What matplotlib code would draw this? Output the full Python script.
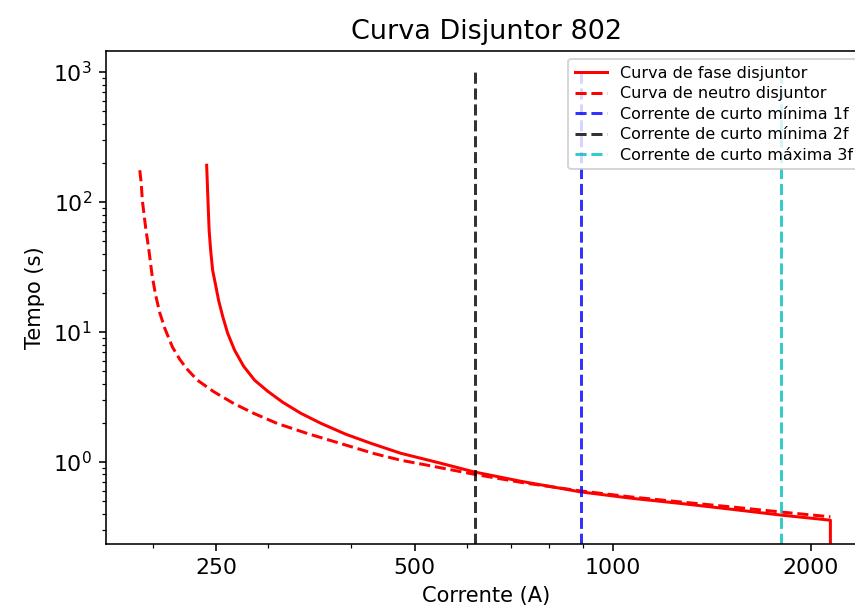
import numpy as np
import matplotlib
matplotlib.use("Agg")
import matplotlib.pyplot as plt
from matplotlib.ticker import FixedLocator, ScalarFormatter, NullFormatter

# curva de fase
i_fase = [241.7, 242.8, 243.8, 245.1, 246.8, 249.4, 252.0, 255.6, 260.1, 266.5,
          275.0, 285.8, 299.1, 315.2, 335.7, 360.0, 392.9, 428.8, 476.1, 547.6,
          615.2, 724.3, 893.2, 1063.9, 1267.0, 1509.0, 1797.0, 2140.0, 2140.0]
t_fase = [191.5, 103.0, 60.5, 42.5, 29.8, 22.9, 17.5, 13.2, 9.77, 7.23,
          5.45, 4.25, 3.50, 2.88, 2.37, 1.985, 1.634, 1.392, 1.166, 0.977,
          0.838, 0.710, 0.588, 0.526, 0.479, 0.433, 0.390, 0.356, 0.1]

# curva de neutro
i_neutro = [191.3, 192.3, 193.0, 195.2, 197.5, 199.7, 202.2, 205.0, 208.7, 214.4,
            219.9, 225.4, 234.0, 247.9, 265.8, 285.1, 309.4, 343.6, 386.0, 433.7,
            476.1, 522.7, 615.2, 732.6, 893.2, 1063.9, 1267.0, 1509.0, 1797.0, 2140.0]
t_neutro = [175.3, 138.5, 103.1, 64.2, 42.5, 27.3, 19.2, 14.2, 10.7, 7.66,
            6.17, 5.21, 4.25, 3.46, 2.81, 2.36, 1.974, 1.654, 1.385, 1.160,
            1.031, 0.943, 0.804, 0.690, 0.598, 0.538, 0.492, 0.451, 0.412, 0.378]

# correntes de curto
icc_min_1f = 894
icc_min_2f = 617
icc_max_3f = 1798
t_linha = [0.1, 1000]

xticks = [250, 500, 1000, 2000]

fig = plt.figure(figsize=(855 / 144, 610 / 144), dpi=144)
ax = fig.add_axes([0.124, 0.108, 0.89, 0.808])

ax.plot(i_fase, t_fase, 'r-', lw=1.5, label='Curva de fase disjuntor')
ax.plot(i_neutro, t_neutro, 'r--', lw=1.5, label='Curva de neutro disjuntor')
ax.plot([icc_min_1f, icc_min_1f], t_linha, 'b--', lw=1.5, alpha=0.8,
        label='Corrente de curto mínima 1f')
ax.plot([icc_min_2f, icc_min_2f], t_linha, 'k--', lw=1.5, alpha=0.8,
        label='Corrente de curto mínima 2f')
ax.plot([icc_max_3f, icc_max_3f], t_linha, 'c--', lw=1.5, alpha=0.8,
        label='Corrente de curto máxima 3f')

ax.set_xscale('log')
ax.set_yscale('log')
ax.set_xlim(170, 2432)
ax.set_ylim(0.233, 1443)
ax.xaxis.set_major_locator(FixedLocator(xticks))
ax.xaxis.set_major_formatter(ScalarFormatter())
ax.xaxis.set_minor_formatter(NullFormatter())

ax.set_title('Curva Disjuntor 802', fontsize=13.5)
ax.set_xlabel('Corrente (A)', fontsize=10.5)
ax.set_ylabel('Tempo (s)', fontsize=10.5)
ax.tick_params(labelsize=11)
ax.legend(loc='upper right', fontsize=8, labelspacing=0.35)

fig.savefig('out.png', dpi=144)
